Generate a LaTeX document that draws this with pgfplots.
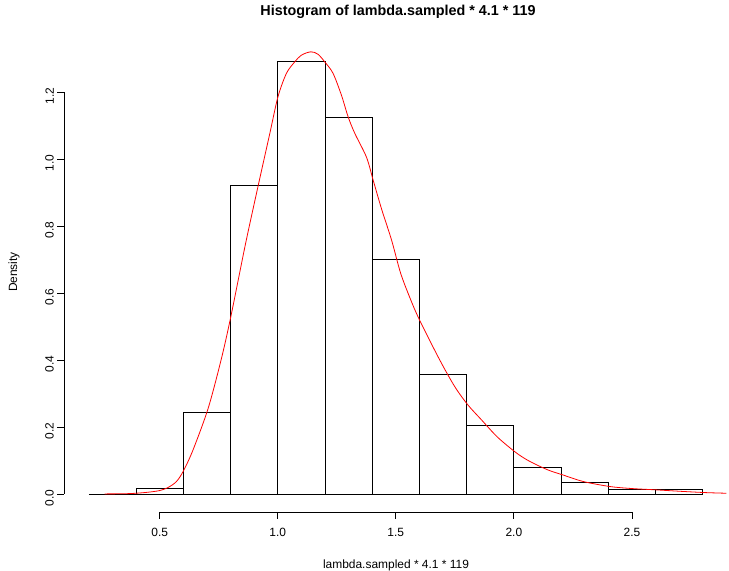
\documentclass[border=0pt]{standalone}
\usepackage{fontspec}
\setmainfont{Liberation Sans}
\usepackage{pgfplots}
\pgfplotsset{compat=1.18}
\usetikzlibrary{calc}
\begin{document}
\begin{tikzpicture}[x=1bp,y=1bp]
\begin{axis}[
  scale only axis,
  width=663bp, height=488.3bp,
  xmin=0.096, xmax=2.904, ymin=-0.054, ymax=1.404,
  axis x line*=bottom, axis y line*=left,
  axis line style={draw=none,-},
  clip=false,
  xtick={0.5,1,1.5,2,2.5}, ytick={0,0.2,0.4,0.6,0.8,1.0,1.2},
  xticklabels={0.5,1.0,1.5,2.0,2.5},
  yticklabels={0.0,0.2,0.4,0.6,0.8,1.0,1.2},
  tick align=outside, major tick length=7bp,
  tick style={black, line width=0.8bp},
  minor tick num=0,
  /pgf/number format/assume math mode=true,
  ticklabel style={font=\fontsize{12}{14}\selectfont},
  xticklabel style={yshift=-5.5bp},
  yticklabel style={rotate=90, anchor=south, xshift=-4bp},
]
\coordinate (ll) at (rel axis cs:0,0);
\addplot[ybar interval, draw=black, fill=none, line width=0.8bp] coordinates {
(0.4,0.016) (0.6,0.244) (0.8,0.920) (1.0,1.290) (1.2,1.124) (1.4,0.701)
(1.6,0.358) (1.8,0.206) (2.0,0.080) (2.2,0.035) (2.4,0.012) (2.6,0.012) (2.8,0.012)
};
\addplot[black, line width=0.8bp] coordinates {(0.2,0) (2.8,0)};
\addplot[red, line width=0.8bp, smooth, tension=0.5] coordinates {
(0.267,0) (0.35,0.0005) (0.40,0.002) (0.45,0.005) (0.50,0.010) (0.535,0.019) (0.571,0.037)
(0.60,0.068) (0.641,0.131) (0.705,0.255) (0.76,0.40) (0.80,0.525) (0.863,0.745)
(0.917,0.92) (0.966,1.075) (1.001,1.186) (1.037,1.256) (1.072,1.29) (1.10,1.31)
(1.14,1.32) (1.17,1.313) (1.199,1.29) (1.234,1.256) (1.27,1.19) (1.298,1.126)
(1.326,1.077) (1.376,1.005) (1.404,0.937) (1.44,0.85) (1.482,0.758) (1.52,0.66)
(1.56,0.585) (1.6,0.52) (1.686,0.40) (1.75,0.32) (1.805,0.266) (1.863,0.221)
(1.93,0.17) (2.004,0.126) (2.05,0.104) (2.096,0.087) (2.15,0.070) (2.206,0.057)
(2.294,0.037) (2.407,0.022) (2.5,0.016) (2.605,0.012) (2.7,0.008) (2.809,0.004) (2.9,0.002)
};
\draw[black, line width=0.8bp] (axis cs:0.5,-0.054) -- (axis cs:2.5,-0.054);
\draw[black, line width=0.8bp] (axis cs:0.096,0) -- (axis cs:0.096,1.2);
\end{axis}
\coordinate (O) at ($(ll)+(-64.3,-59)$);
\useasboundingbox (O) rectangle ($(O)+(729,571)$);
\node[font=\fontsize{14.4}{16}\selectfont\bfseries] at ($(O)+(398,559)$) {Histogram of lambda.sampled * 4.1 * 119};
\node[font=\fontsize{12}{14}\selectfont] at ($(O)+(396,6)$) {lambda.sampled * 4.1 * 119};
\node[font=\fontsize{12}{14}\selectfont, rotate=90] at ($(O)+(14,299)$) {Density};
\end{tikzpicture}
\end{document}
